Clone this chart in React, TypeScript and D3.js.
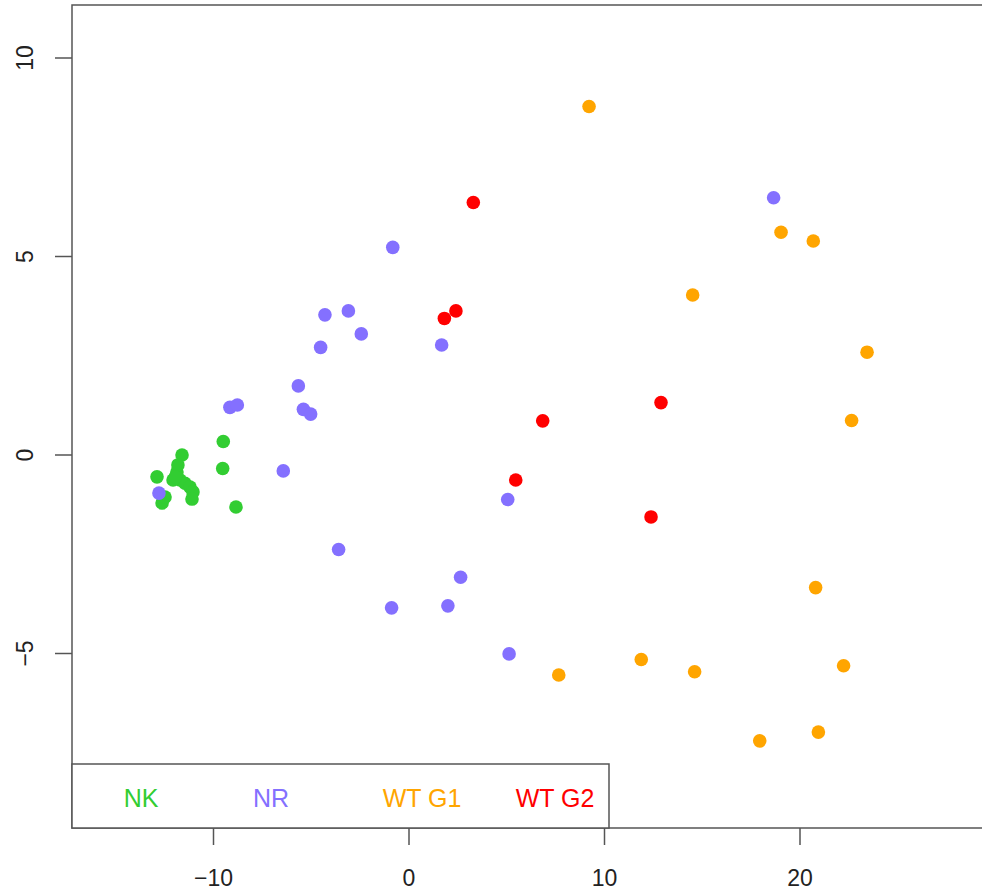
import React from "react";
import * as d3 from "d3";

// groups and their colours
const groups = ["NK", "NR", "WT G1", "WT G2"];
const groupColors = ["#32CD32", "#8470FF", "#FFA500", "#FF0000"];

// points: [x, y]
const nkPoints: [number, number][] = [
  [-9.5, 0.34], [-9.53, -0.34], [-8.85, -1.31], [-11.61, 0.0],
  [-12.89, -0.55], [-12.63, -1.21], [-12.48, -1.06], [-11.87, -0.43],
  [-11.71, -0.63], [-11.46, -0.71], [-11.2, -0.81], [-11.05, -0.93],
  [-11.1, -1.11], [-12.07, -0.63], [-11.82, -0.25], [-11.95, -0.55],
];
const nrPoints: [number, number][] = [
  [-0.83, 5.23], [1.67, 2.77], [5.05, -1.12], [-3.6, -2.38],
  [2.64, -3.08], [-0.89, -3.85], [1.99, -3.8], [5.12, -5.01],
  [18.65, 6.48], [-4.3, 3.53], [-3.1, 3.63], [-2.44, 3.05],
  [-4.52, 2.71], [-5.66, 1.74], [-5.4, 1.15], [-5.03, 1.03],
  [-9.16, 1.2], [-8.78, 1.26], [-6.43, -0.4], [-12.79, -0.96],
];
const wtG1Points: [number, number][] = [
  [9.21, 8.78], [19.03, 5.61], [20.68, 5.39], [14.51, 4.03],
  [23.43, 2.59], [22.64, 0.87], [20.8, -3.34], [7.66, -5.54],
  [11.88, -5.15], [14.61, -5.46], [22.23, -5.31], [20.94, -6.98],
  [17.94, -7.2],
];
const wtG2Points: [number, number][] = [
  [3.29, 6.36], [2.4, 3.63], [1.81, 3.44], [12.89, 1.32],
  [6.84, 0.86], [5.46, -0.63], [12.38, -1.56],
];

const xTicks = [-10, 0, 10, 20];
const yTicks = [-5, 0, 5, 10];

const W = 982;
const H = 892;
const left = 72;
const top = 5;
const bottom = 828;
const right = 1000;

const App = () => {
  const x = d3.scaleLinear().domain([0, 10]).range([409, 604.5]);
  const y = d3.scaleLinear().domain([0, 5]).range([455, 256.5]);

  const series = [nkPoints, nrPoints, wtG1Points, wtG2Points];
  const fmt = (v: number) => (v < 0 ? "\u2212" + Math.abs(v) : String(v));
  const font = "'Liberation Sans', Arial, Helvetica, sans-serif";

  const legendX = [141, 271, 422, 555];

  return (
    <svg
      width={W}
      height={H}
      style={{ position: "absolute", left: 0, top: 0, background: "#fff" }}
      fontFamily={font}
    >
      {series.map((pts, gi) =>
        pts.map((p, i) => (
          <circle
            key={gi + "-" + i}
            cx={x(p[0])}
            cy={y(p[1])}
            r={6.8}
            fill={groupColors[gi]}
          />
        ))
      )}

      <rect
        x={left}
        y={top}
        width={right - left}
        height={bottom - top}
        fill="none"
        stroke="#555"
        strokeWidth={1.5}
      />

      {xTicks.map((t) => (
        <g key={"x" + t}>
          <line x1={x(t)} x2={x(t)} y1={bottom} y2={bottom + 17} stroke="#555" strokeWidth={1.5} />
          <text x={x(t)} y={886} textAnchor="middle" fontSize={23} fill="#222">
            {fmt(t)}
          </text>
        </g>
      ))}

      {yTicks.map((t) => (
        <g key={"y" + t}>
          <line x1={left - 17} x2={left} y1={y(t)} y2={y(t)} stroke="#555" strokeWidth={1.5} />
          <text
            transform={`translate(33,${y(t)}) rotate(-90)`}
            textAnchor="middle"
            fontSize={23}
            fill="#222"
          >
            {fmt(t)}
          </text>
        </g>
      ))}

      <rect x={left} y={764} width={609 - left} height={bottom - 764} fill="#fff" stroke="#555" strokeWidth={1.5} />
      {groups.map((g, i) => (
        <text key={g} x={legendX[i]} y={807} textAnchor="middle" fontSize={25} fill={groupColors[i]}>
          {g}
        </text>
      ))}
    </svg>
  );
};

export default App;
